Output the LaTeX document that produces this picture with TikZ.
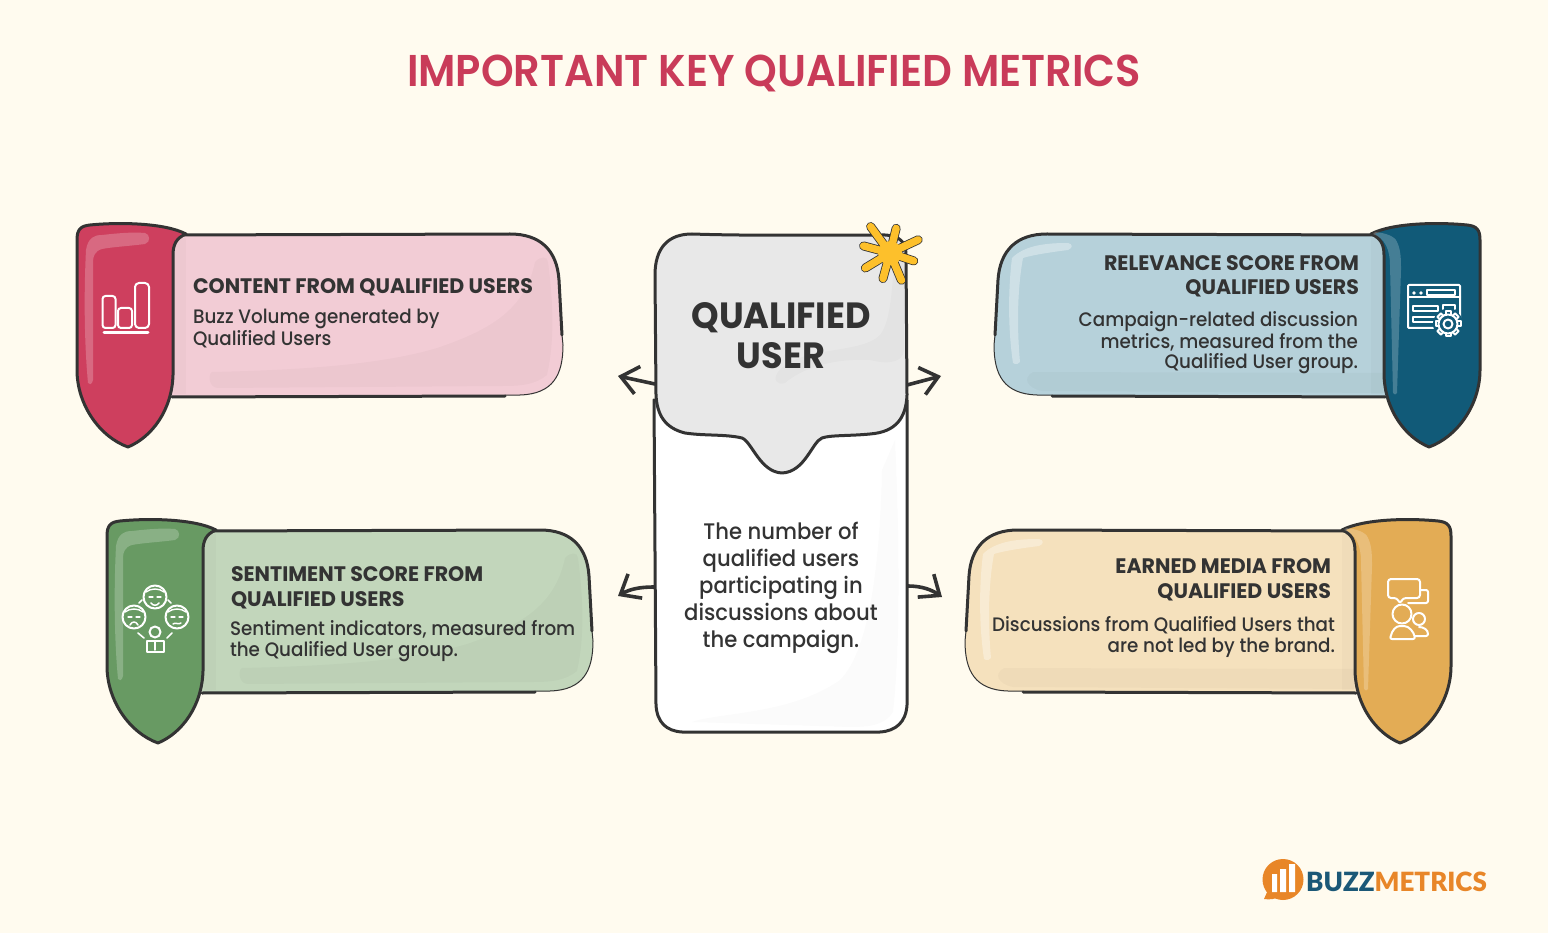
\documentclass[tikz,border=0pt]{standalone}
\usepackage{fontspec}
\usetikzlibrary{arrows.meta}
\setmainfont{Poppins Medium}[FakeStretch=0.94]
\newfontfamily\titlefont{Poppins SemiBold}[FakeStretch=0.934]
\newfontfamily\headfont{Poppins Bold}[FakeStretch=0.978]
\newfontfamily\hubfont{Poppins Bold}[FakeStretch=0.96]
\newfontfamily\logofont{Lato Black}[FakeStretch=0.98]
\definecolor{bgc}{HTML}{FFFBEF}
\definecolor{ink}{HTML}{333333}
\definecolor{titlec}{HTML}{C93B59}
\definecolor{pinkT}{HTML}{CE3F5E}\definecolor{pinkB}{HTML}{F2CCD5}
\definecolor{blueT}{HTML}{115A78}\definecolor{blueB}{HTML}{B6D1DA}
\definecolor{greenT}{HTML}{689A63}\definecolor{greenB}{HTML}{C2D6BB}
\definecolor{yellT}{HTML}{E3AC55}\definecolor{yellB}{HTML}{F5E1BD}
\definecolor{hubg}{HTML}{E8E8E8}
\definecolor{starc}{HTML}{FDC02B}
\definecolor{logoO}{HTML}{E88628}
\definecolor{logoB}{HTML}{1B5877}
\tikzset{
  outline/.style={draw=ink,line width=3pt,line cap=round,line join=round},
  thinline/.style={draw=ink,line width=1pt,line cap=round},
  icon/.style={draw=white,line width=2pt,line cap=round,line join=round},
  txt/.style={text=ink,inner sep=0pt,outer sep=0pt},
  head/.style={txt,font=\headfont\fontsize{21}{24.5}\selectfont},
  bodyt/.style={txt,font=\fontsize{19.5}{21}\selectfont},
  hubarrow/.style={draw=ink,line width=3.6pt,line cap=round,-{Straight Barb[length=17pt,width=28pt,line width=3.6pt]}},
}
\newcommand{\cardpart}[4]{%
\begin{scope}[#1]
  \fill[#3] (172,235) -- (510,234) .. controls (540,234) and (557,250) .. (559,280) -- (563,345) .. controls (563,375) and (553,394) .. (520,395) -- (172,397) -- cycle;
  \ifnum#4=0
    \fill[black,opacity=.022] (212,372) .. controls (300,370) and (380,365) .. (437,348) .. controls (490,330) and (525,310) .. (535,262) .. controls (540,256) and (548,256) .. (548,262) .. controls (553,300) and (555,340) .. (547,375) .. controls (535,385) and (520,386) .. (503,386) -- (218,388) .. controls (208,388) and (208,373) .. (212,372) -- cycle;
  \else
    \fill[black,opacity=.025] (172,373) -- (524,372) .. controls (535,378) and (530,388) .. (515,391) -- (172,393) -- cycle;
    \fill[white,opacity=.34] (489,243) .. controls (510,243) and (532,245) .. (545,258) .. controls (549,290) and (549,330) .. (544,363) .. controls (541,365) and (538,364) .. (537,362) .. controls (540,330) and (540,290) .. (534,258) .. controls (525,255) and (505,252) .. (489,250) .. controls (484,248) and (484,244) .. (489,243) -- cycle;
  \fi
  \fill[black,opacity=.018] (174,238) rectangle (186,394);
  \draw[outline] (172,235) -- (510,234) .. controls (540,234) and (557,250) .. (559,280) -- (562,335);
  \draw[thinline] (562,335) -- (563,345) .. controls (563,375) and (553,394) .. (520,395) -- (505,395);
  \draw[outline] (505,396) -- (172,397);
  \path[fill=#2,outline] (186,234) .. controls (165,223) and (120,222) .. (90,225) .. controls (80,226) and (77,230) .. (77,240) -- (77,370) .. controls (77,405) and (100,437) .. (128,447) .. controls (152,437) and (172,410) .. (173,375) -- (173,255) .. controls (173,245) and (176,238) .. (186,234) -- cycle;
  \ifnum#4=0
    \fill[white,opacity=.22] (88,383) .. controls (84,340) and (84,290) .. (86,250) .. controls (88,238) and (94,235) .. (102,235) .. controls (120,233) and (132,232) .. (145,233) .. controls (150,234) and (151,242) .. (145,244) .. controls (130,246) and (112,247) .. (102,249) .. controls (95,251) and (93,256) .. (93,262) -- (93,380) .. controls (92,385) and (89,385) .. (88,383) -- cycle;
  \else
    \fill[white,opacity=.22] (182,232) .. controls (172,233) and (162,236) .. (160,242) .. controls (156,250) and (156,260) .. (156,270) -- (160,393) .. controls (161,395) and (163,395) .. (164,393) -- (167,265) .. controls (167,250) and (172,238) .. (184,234) -- cycle;
  \fi
\end{scope}}
\begin{document}
\begin{tikzpicture}[x=1pt,y=-1pt]
\useasboundingbox (0,0) rectangle (1548,933);
\fill[bgc] (0,0) rectangle (1548,933);
\node[inner sep=0pt,text=titlec,font=\titlefont\fontsize{44.5}{48}\selectfont,anchor=base] (title) at (774,87) {IMPORTANT KEY QUALIFIED METRICS};

\cardpart{}{pinkT}{pinkB}{0}
\cardpart{shift={(30,296)}}{greenT}{greenB}{0}
\cardpart{shift={(1557,0)},xscale=-1}{blueT}{blueB}{1}
\cardpart{shift={(1528,296)},xscale=-1}{yellT}{yellB}{1}

\node[head,anchor=base west] (h1) at (193,294) {CONTENT FROM QUALIFIED USERS};
\node[bodyt,align=left,anchor=base west] (b1) at (193,345) {Buzz Volume generated by\\Qualified Users};
\node[head,align=right,anchor=base east] (h2) at (1359,295) {RELEVANCE SCORE FROM\\QUALIFIED USERS};
\node[bodyt,align=right,anchor=base east] (b2) at (1358,369) {Campaign-related discussion\\metrics, measured from the\\Qualified User group.};
\node[head,align=left,anchor=base west] (h3) at (231,606) {SENTIMENT SCORE FROM\\QUALIFIED USERS};
\node[bodyt,align=left,anchor=base west] (b3) at (230,656) {Sentiment indicators, measured from\\the Qualified User group.};
\node[head,align=right,anchor=base east] (h4) at (1331,598) {EARNED MEDIA FROM\\QUALIFIED USERS};
\node[bodyt,align=right,anchor=base east] (b4) at (1335,652) {Discussions from Qualified Users that\\are not led by the brand.};

\coordinate (hubUL) at (655,384); \coordinate (tipUL) at (618,376);
\coordinate (hubUR) at (907,385); \coordinate (tipUR) at (941,376);
\coordinate (hubLL) at (654,587); \coordinate (tipLL) at (618,596);
\coordinate (hubLR) at (908,586); \coordinate (tipLR) at (942,597);
\draw[hubarrow] (hubUL) -- (tipUL);
\draw[hubarrow] (hubUR) -- (tipUR);
\draw[hubarrow] (hubLL) .. controls (640,587) and (630,589) .. (tipLL);
\draw[hubarrow] (hubLR) .. controls (922,586) and (932,590) .. (tipLR);
\path[fill=white,outline] (654,400) -- (656,705) .. controls (657,722) and (666,731) .. (682,732) -- (880,732) .. controls (896,731) and (906,722) .. (907,705) -- (907,400) -- cycle;
\fill[black,opacity=.014] (692,722) .. controls (720,712) and (790,715) .. (840,680) .. controls (870,650) and (880,560) .. (882,470) -- (895,440) .. controls (900,550) and (900,650) .. (893,712) .. controls (885,725) and (870,727) .. (850,727) -- cycle;
\path[fill=hubg,outline] (655,275) .. controls (655,248) and (668,234) .. (692,234) .. controls (750,236) and (830,235) .. (885,235) .. controls (900,236) and (906,242) .. (906,255) -- (907,395) .. controls (906,418) and (896,432) .. (870,434) .. controls (850,436) and (830,435) .. (822,438) .. controls (812,442) and (805,472) .. (782,473) .. controls (760,472) and (752,442) .. (742,438) .. controls (725,434) and (705,436) .. (685,433) .. controls (665,428) and (657,415) .. (656,395) -- cycle;
\fill[black,opacity=.02] (895,255) .. controls (904,258) and (905,265) .. (905,290) -- (904,350) .. controls (903,362) and (890,365) .. (870,360) .. controls (830,358) and (800,370) .. (785,383) .. controls (778,386) and (772,380) .. (778,372) .. controls (800,345) and (860,355) .. (880,335) .. controls (892,320) and (892,280) .. (895,255) -- cycle;
\node[txt,font=\hubfont\fontsize{36.5}{40}\selectfont,align=center,anchor=base] (hubtitle) at (781,369) {QUALIFIED\\USER};
\node[txt,font=\fontsize{22.5}{27}\selectfont,align=center,anchor=base] (hubtext) at (781,647) {The number of\\qualified users\\participating in\\discussions about\\the campaign.};

\foreach \a/\b in {868/223,897/225,922/238,917/262,903/284,882/282,862/270,860/245}
  \draw[ink,line width=9pt,line cap=round] (890,253) -- ({890+(\a-890)*0.88},{253+(\b-253)*0.88});
\foreach \a/\b in {868/223,897/225,922/238,917/262,903/284,882/282,862/270,860/245}
  \draw[starc,line width=7.4pt,line cap=round] (890,253) -- ({890+(\a-890)*0.88},{253+(\b-253)*0.88});
\fill[starc] (890,253) circle[radius=12];

\draw[icon,rounded corners=3pt] (102.5,328) -- (102.5,296) -- (115.5,296) -- (115.5,328) -- cycle;
\draw[icon,rounded corners=3pt] (118,328) -- (118,308) -- (132,308) -- (132,328) -- cycle;
\draw[icon,rounded corners=4pt] (135,328) -- (135,283) -- (149,283) -- (149,328) -- cycle;
\draw[icon,line width=3pt] (104,333) -- (148,333);

\draw[icon,rounded corners=1pt] (1408,285) rectangle (1460,328);
\draw[icon] (1408,297) -- (1460,297);
\fill[white] (1414,293) circle[radius=1.8] (1421,293) circle[radius=1.8];
\draw[icon] (1427,290) rectangle (1455,295);
\draw[icon] (1413,306) rectangle (1438,311);
\draw[icon] (1413,317) rectangle (1435,322);
\draw[icon] (1443,309) -- (1443,305) -- (1455,305) -- (1455,309);
\fill[blueT] (1448,324) circle[radius=15];
\foreach \r in {0,45,...,315}
  \draw[icon,rotate around={\r:(1448,324)}] (1445.5,315) -- (1445.5,311.5) -- (1450.5,311.5) -- (1450.5,315);
\draw[icon,fill=blueT] (1448,324) circle[radius=9.5];
\draw[icon] (1448,324) circle[radius=4.5];

\foreach \x/\y in {155/597,134/617,177/617}{
  \draw[icon] (\x,\y) circle[radius=11.5];
  \draw[icon,line width=1.4pt] ({\x-9},{\y-5}) .. controls ({\x-4},{\y-9}) and ({\x+4},{\y-9}) .. ({\x+9},{\y-5});
  \draw[icon,line width=1.3pt] ({\x-6},\y) -- ({\x-2},\y) ({\x+2},\y) -- ({\x+6},\y);
}
\draw[icon,line width=1.5pt] (151,603) .. controls (153,606) and (157,606) .. (159,603);
\draw[icon,line width=1.5pt] (130,625) .. controls (132,621) and (136,621) .. (138,625);
\draw[icon,line width=1.5pt] (173,624) .. controls (175,622) and (179,625) .. (181,623);
\draw[icon] (155,632) circle[radius=5.5];
\draw[icon] (147,652) -- (147,641) -- (164,641) -- (164,652) -- cycle;
\draw[icon,line width=1.5pt] (155,642) -- (155,650);
\draw[icon,line width=1.6pt] (139,603) -- (142,600) (168,600) -- (171,603) (138,633) -- (144,638) (172,633) -- (167,638);

\draw[icon,rounded corners=3pt] (1388,579) -- (1420,579) -- (1420,598) -- (1403,598) -- (1400,604) -- (1397,598) -- (1388,598) -- cycle;
\draw[icon,rounded corners=2pt] (1421,590) -- (1428,590) -- (1428,603) -- (1408,603);
\draw[icon] (1402,614) circle[radius=9.5];
\draw[icon] (1419,619) circle[radius=6];
\draw[icon,rounded corners=2pt] (1390,639) .. controls (1392,630) and (1396,626) .. (1402,626) .. controls (1409,626) and (1414,632) .. (1415,639) -- cycle;
\draw[icon,rounded corners=2pt] (1415,636) -- (1428,636) .. controls (1428,630) and (1424,627) .. (1419,627);

\fill[logoO] (1283,879.5) circle[radius=20.5];
\fill[logoO] (1268,890) -- (1264,899) .. controls (1270,900) and (1276,899) .. (1280,896) -- cycle;
\fill[white] (1272,874) rectangle (1277,892) (1280,869) rectangle (1286,892) (1289,864) rectangle (1295,892);
\node[inner sep=0pt,anchor=base west,font=\logofont\fontsize{26.5}{27}\selectfont] (logotext) at (1306,891) {\textcolor{logoB}{BUZZ}\textcolor{logoO}{METRICS}};
\end{tikzpicture}
\end{document}
